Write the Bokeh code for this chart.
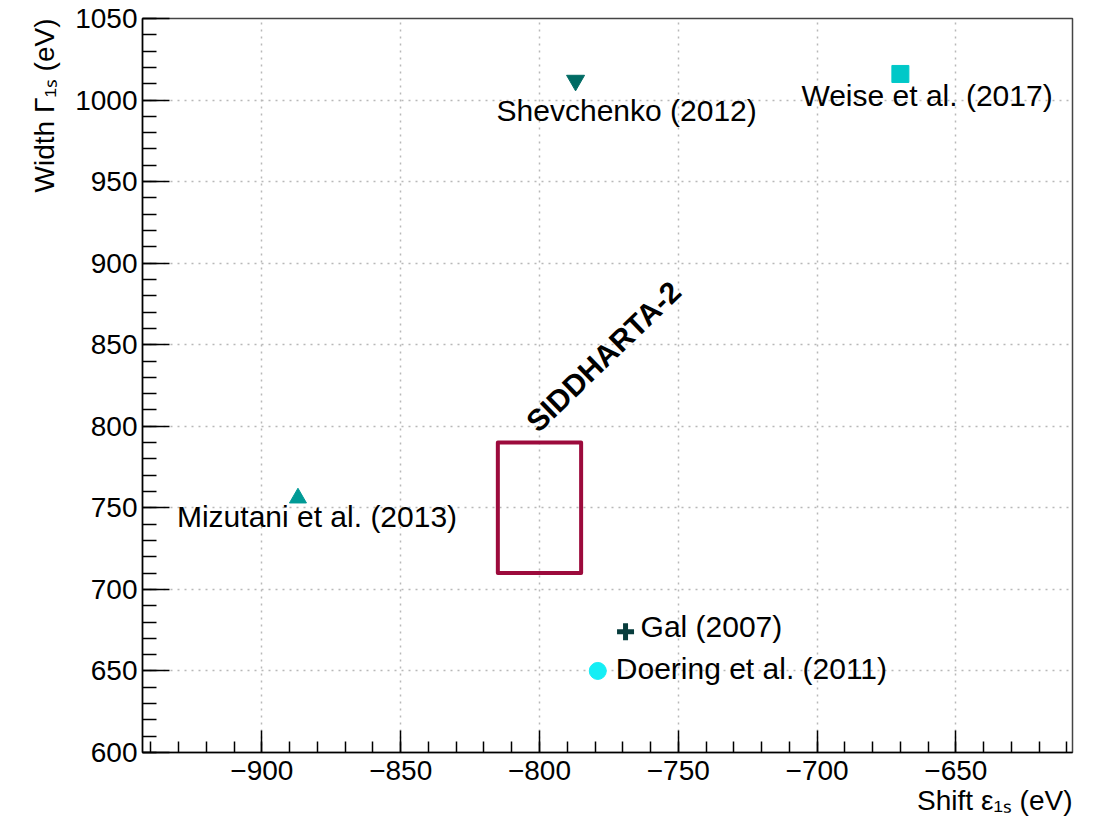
from bokeh.plotting import figure
from bokeh.models import ColumnDataSource, SingleIntervalTicker, CustomJSTickFormatter, Range1d, Title
from bokeh.core.properties import value
from bokeh.embed import file_html
from bokeh.resources import INLINE

# ---- data ----
names = ["Shevchenko (2012)", "Weise et al. (2017)", "Mizutani et al. (2013)",
         "Gal (2007)", "Doering et al. (2011)"]
shift_eV = [-787, -670, -887, -769, -779]
width_eV = [1012, 1016, 756, 674, 650]

sidd_label = "SIDDHARTA-2"
sidd_shift = [-815, -785]   # min, max
sidd_width = [710, 790]     # min, max

x_range = (-943, -608)
y_range = (600, 1050)
x_title = "Shift \u03b5\u2081\u209b (eV)"
y_title = "Width \u0393\u2081\u209b (eV)"

# ---- styles ----
markers = ["inverted_triangle", "square", "triangle", "cross", "circle"]
colors = ["#006b64", "#00c8c8", "#009a96", "#073c3c", "#15eef5"]
msizes = [18, 17, 17, 17, 17]
mlw = [1, 1, 1, 5, 1]
lab_dx = [-79, -99, -121, 15, 18]
lab_dy = [30, 22, 18, -5, -2]

FONT = "Liberation Sans"

src = ColumnDataSource(dict(x=shift_eV, y=width_eV, name=names, marker=markers,
                            color=colors, size=msizes, lw=mlw, dx=lab_dx, dy=lab_dy))

p = figure(width=1102, height=822, output_backend="svg", toolbar_location=None,
           x_range=Range1d(*x_range), y_range=Range1d(*y_range),
           min_border_left=142, min_border_right=30, min_border_top=18, min_border_bottom=70)

p.background_fill_color = "white"
p.border_fill_color = "white"
p.outline_line_color = "#444444"
p.outline_line_width = 1.5

# grid
for g in (p.xgrid, p.ygrid):
    g.grid_line_color = "#b8b8b8"
    g.grid_line_dash = "2 5"
    g.grid_line_width = 1.5

# axes
for ax in (p.xaxis[0], p.yaxis[0]):
    ax.ticker = SingleIntervalTicker(interval=50, num_minor_ticks=5)
    ax.axis_line_color = "black"
    ax.axis_line_width = 1.5
    ax.major_tick_line_color = "black"
    ax.minor_tick_line_color = "black"
    ax.major_tick_line_width = 1.5
    ax.minor_tick_line_width = 1.5
    ax.major_tick_out = 0
    ax.minor_tick_out = 0
    ax.major_label_text_font = FONT
    ax.major_label_text_font_size = "28px"
    ax.major_label_text_color = "black"
    ax.formatter = CustomJSTickFormatter(
        code="return (tick < 0 ? '\\u2212' : '') + Math.abs(tick).toFixed(0);")

p.xaxis.major_tick_in = 22
p.xaxis.minor_tick_in = 11
p.yaxis.major_tick_in = 27
p.yaxis.minor_tick_in = 14
p.xaxis.major_label_standoff = 8
p.yaxis.major_label_standoff = 5

# axis titles, ROOT style (aligned to the axis end)
p.add_layout(Title(text=x_title, align="right", text_font=FONT, text_font_size="28px",
                   text_font_style="normal", text_color="black", standoff=0, offset=0),
             "below")
p.add_layout(Title(text=y_title, align="right", text_font=FONT, text_font_size="28px",
                   text_font_style="normal", text_color="black", standoff=26, offset=0),
             "left")

# SIDDHARTA-2 box
p.quad(left=[sidd_shift[0]], right=[sidd_shift[1]], bottom=[sidd_width[0]], top=[sidd_width[1]],
       fill_alpha=0, line_color="#9c0a3c", line_width=4, line_join="round")
p.text(x=[(sidd_shift[0] + sidd_shift[1]) / 2 - 3], y=[sidd_width[1] + 10], text=[sidd_label],
       angle=44, angle_units="deg", text_font=value(FONT), text_font_size="30px",
       text_font_style="bold", text_color="black", text_align="left", text_baseline="alphabetic")

# points
p.scatter(x="x", y="y", marker="marker", size="size", fill_color="color", line_color="color",
          line_width="lw", source=src)
p.text(x="x", y="y", text="name", x_offset="dx", y_offset="dy", source=src,
       text_font=value(FONT), text_font_size="30px", text_color="black",
       text_align="left", text_baseline="alphabetic")

open("out.html", "w").write(file_html(p, INLINE))
